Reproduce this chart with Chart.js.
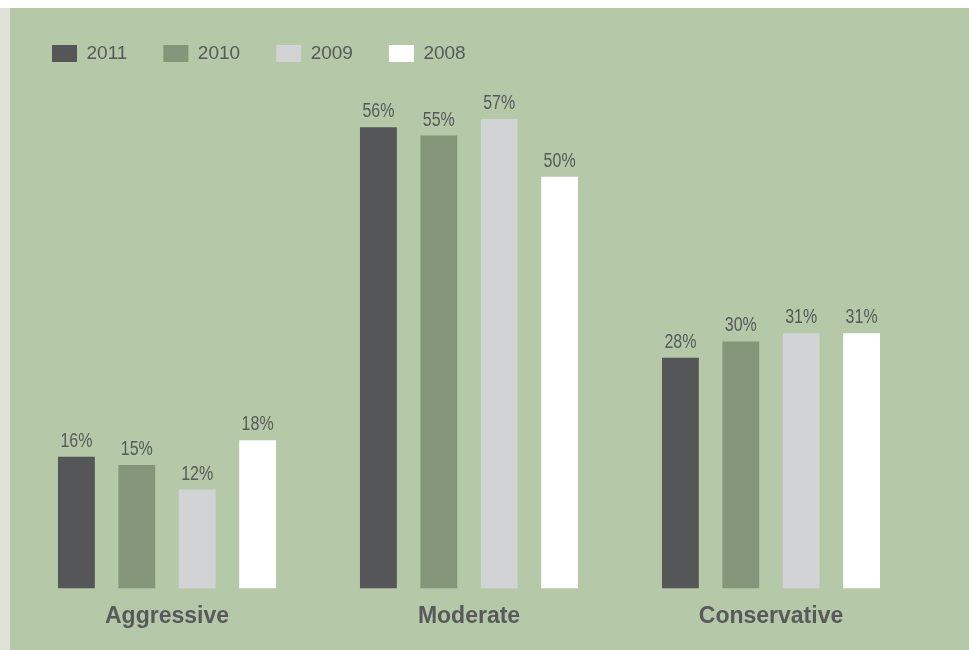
<!DOCTYPE html>
<html>
<head>
<meta charset="utf-8">
<script src="https://cdn.jsdelivr.net/npm/chart.js@4"></script>
<style>
  body { margin: 0; background: #ffffff; }
  #strip { position: absolute; left: 0; top: 8px; width: 10px; height: 642px; background: #e0e2da; }
  #panel { position: absolute; left: 10px; top: 8px; width: 959px; height: 642px; background: #b5c9a8; }
</style>
</head>
<body>
<div id="strip"></div>
<div id="panel"><canvas id="myChart" width="959" height="642"></canvas></div>
<script>
const categories = ['Aggressive', 'Moderate', 'Conservative'];
const years = ['2011', '2010', '2009', '2008'];
const values2011 = [16, 56, 28];
const values2010 = [15, 55, 30];
const values2009 = [12, 57, 31];
const values2008 = [18, 50, 31];
const colors = ['#555658', '#84957a', '#d1d3d4', '#ffffff'];

const sans = "'Liberation Sans', Arial, sans-serif";

// draws the "16%" labels over each bar, squeezed a bit to look condensed
const valueLabels = {
  id: 'valueLabels',
  afterDatasetsDraw(chart) {
    const ctx = chart.ctx;
    chart.data.datasets.forEach((ds, i) => {
      chart.getDatasetMeta(i).data.forEach((bar, j) => {
        ctx.save();
        ctx.translate(bar.x, bar.y - 10);
        ctx.scale(0.8, 1);
        ctx.fillStyle = '#58595b';
        ctx.font = '20px ' + sans;
        ctx.textAlign = 'center';
        ctx.textBaseline = 'alphabetic';
        ctx.fillText(ds.data[j] + '%', 0, 0);
        ctx.restore();
      });
    });
  }
};

const data = {
  labels: categories,
  datasets: [
    { label: years[0], data: values2011, backgroundColor: colors[0] },
    { label: years[1], data: values2010, backgroundColor: colors[1] },
    { label: years[2], data: values2009, backgroundColor: colors[2] },
    { label: years[3], data: values2008, backgroundColor: colors[3] },
  ]
};

const config = {
  type: 'bar',
  data: data,
  options: {
    responsive: false,
    animation: false,
    layout: { padding: { left: 6, right: 47, top: 0, bottom: 6 } },
    datasets: { bar: { barPercentage: 0.61, categoryPercentage: 0.8 } },
    scales: {
      x: {
        grid: { display: false, drawTicks: false },
        border: { display: false },
        ticks: { color: '#58595b', padding: 14, font: { family: sans, size: 23, weight: 'bold' } }
      },
      y: { display: false, min: 0, max: 62.6 }
    },
    plugins: {
      tooltip: { enabled: false },
      legend: {
        align: 'start',
        labels: {
          boxWidth: 25,
          boxHeight: 17,
          padding: 36,
          color: '#58595b',
          font: { family: sans, size: 19 }
        }
      }
    }
  },
  plugins: [valueLabels]
};

const myChart = new Chart(document.getElementById('myChart'), config);
</script>
</body>
</html>
